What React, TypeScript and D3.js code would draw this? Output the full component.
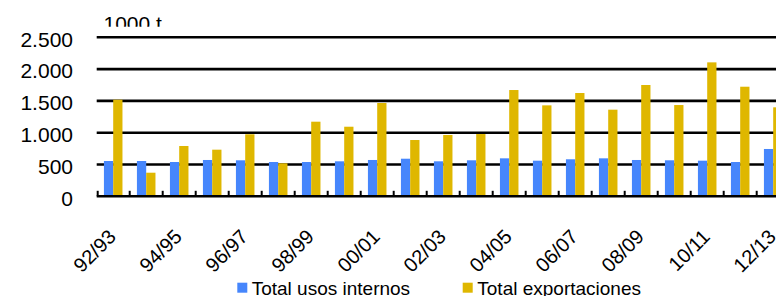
import React from 'react';
import * as d3 from 'd3';

const categories = [
    '92/93', '93/94', '94/95', '95/96', '96/97', '97/98', '98/99', '99/00', '00/01', '01/02', '02/03',
    '03/04', '04/05', '05/06', '06/07', '07/08', '08/09', '09/10', '10/11', '11/12', '12/13',
];
const usosInternos = [555, 555, 539, 571, 566, 539, 539, 550, 571, 591, 550, 566, 597, 560, 582, 597, 571, 566, 560, 539, 744];
const exportaciones = [1519, 371, 791, 733, 975, 519, 1173, 1094, 1467, 885, 964, 979, 1671, 1430, 1624, 1362, 1750, 1435, 2106, 1723, 1399];
const seriesNames = ['Total usos internos', 'Total exportaciones'];
const yTicks = [0, 500, 1000, 1500, 2000, 2500];

const colors = ['#4686fc', '#dfb700'];
const font = '"Liberation Sans", Arial, sans-serif';

export default function App() {
    const width = 776;
    const height = 296;
    const left = 96.7;
    const step = 33;
    const baseY = 196.3;
    const topY = 37.3;

    // chart runs past the right edge of the window, as in the original
    const x = d3.scaleBand<string>()
        .domain(categories)
        .range([left, left + step * categories.length])
        .padding(0);
    const xSub = d3.scaleBand<string>()
        .domain(seriesNames)
        .range([0, x.bandwidth()])
        .paddingInner(0)
        .paddingOuter(0.78);
    const y = d3.scaleLinear().domain([0, 2500]).range([baseY, topY]);

    const series = [usosInternos, exportaciones];
    const fmt = (v: number) => d3.format(',')(v).replace(/,/g, '.');

    return (
        <svg
            width={width}
            height={height}
            style={{ position: 'absolute', left: 0, top: 0, background: '#fff' }}
            fontFamily={font}
        >
            <defs>
                <clipPath id="unitClip">
                    <rect x={0} y={0} width={300} height={26.7} />
                </clipPath>
            </defs>

            {/* unit label, cut at the bottom like the source */}
            <text x={103.5} y={31} fontSize={21} fill="#000" clipPath="url(#unitClip)">1000 t</text>

            {/* gridlines */}
            {yTicks.filter(t => t > 0).map(t => (
                <line key={t} x1={left} x2={left + step * categories.length} y1={y(t)} y2={y(t)}
                    stroke="#000" strokeWidth={2.6} />
            ))}

            {/* y labels */}
            {yTicks.map(t => (
                <text key={t} x={73} y={y(t) + 1.8} textAnchor="end" dominantBaseline="central"
                    fontSize={21} fill="#000">{fmt(t)}</text>
            ))}

            {/* bars */}
            {categories.map((c, i) => (
                <g key={c} transform={`translate(${x(c)},0)`}>
                    {seriesNames.map((s, k) => (
                        <rect key={s} x={xSub(s)} width={xSub.bandwidth()}
                            y={y(series[k][i])} height={baseY - y(series[k][i])} fill={colors[k]} />
                    ))}
                </g>
            ))}

            {/* x axis + inward ticks */}
            <line x1={left} x2={left + step * categories.length} y1={baseY} y2={baseY} stroke="#000" strokeWidth={2.6} />
            {categories.map((c, i) => (
                <line key={c} x1={(x(c) as number) + (i === 0 ? 1 : 0)} x2={(x(c) as number) + (i === 0 ? 1 : 0)}
                    y1={baseY} y2={baseY - 5.5} stroke="#000" strokeWidth={2} />
            ))}

            {/* x labels, every other season */}
            {categories.map((c, i) => i % 2 === 0 ? (
                <text key={c} transform={`translate(${(x(c) as number) + x.bandwidth() / 2 + 4},${238}) rotate(-45)`}
                    textAnchor="end" fontSize={20} fill="#000">{c}</text>
            ) : null)}

            {/* legend */}
            <rect x={237.3} y={282.7} width={10} height={10} fill={colors[0]} />
            <text x={251.7} y={295} fontSize={19} fill="#000">{seriesNames[0]}</text>
            <rect x={462.7} y={282.7} width={10} height={10} fill={colors[1]} />
            <text x={477.3} y={295} fontSize={19} fill="#000">{seriesNames[1]}</text>
        </svg>
    );
}
